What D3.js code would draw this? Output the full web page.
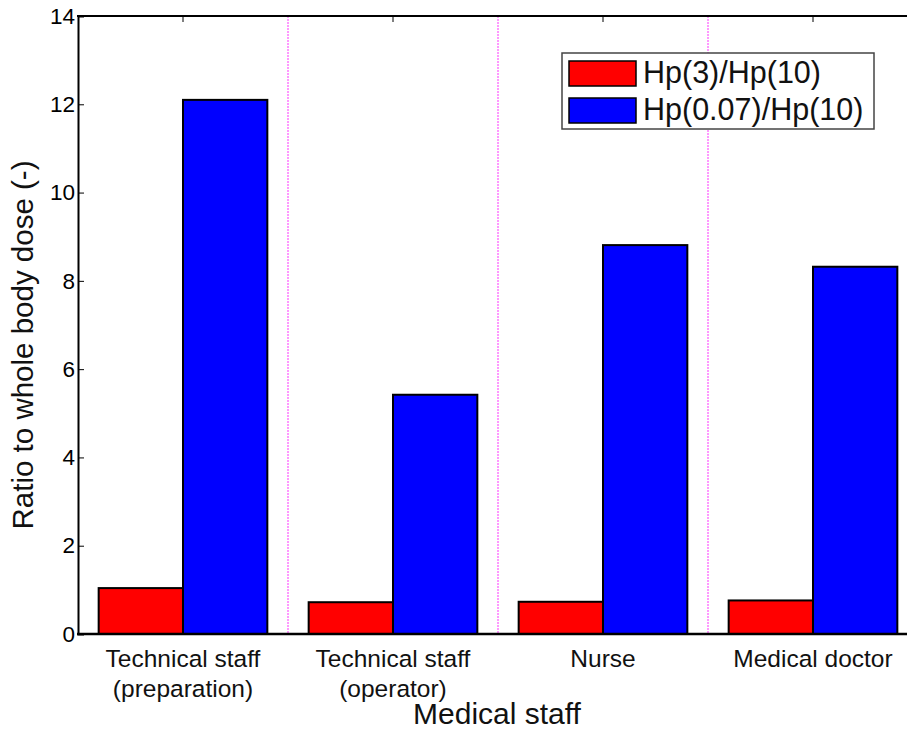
<!DOCTYPE html>
<html>
<head>
<meta charset="utf-8">
<script src="https://cdn.jsdelivr.net/npm/d3@7"></script>
<style>
  html, body { margin: 0; padding: 0; background: #fff; }
  svg { display: block; font-family: "Liberation Sans", Arial, sans-serif; }
</style>
</head>
<body>
<svg id="chart" width="907" height="730"></svg>
<script>
// Staff groups (label lines) and the two dose ratios per group
const categories = ["prep", "oper", "nurse", "doctor"];
const categoryLabels = [
  ["Technical staff", "(preparation)"],
  ["Technical staff", "(operator)"],
  ["Nurse"],
  ["Medical doctor"]
];
const seriesNames = ["Hp(3)/Hp(10)", "Hp(0.07)/Hp(10)"];
const seriesColors = ["#ff0000", "#0000ff"];
const ratioHp3 = [1.04, 0.72, 0.73, 0.76];
const ratioHp007 = [12.10, 5.42, 8.81, 8.32];
const yTicks = [0, 2, 4, 6, 8, 10, 12, 14];

(function () {
  const svg = d3.select("#chart");

  // Plot frame
  const plotLeft = 78, plotRight = 918, plotTop = 16, plotBottom = 634;

  const x = d3.scaleBand().domain(categories).range([plotLeft, plotRight]).paddingInner(0).paddingOuter(0);
  const xSub = d3.scaleBand().domain(seriesNames).range([0, x.bandwidth()]).paddingInner(0).paddingOuter(0.245);
  const y = d3.scaleLinear().domain([0, 14]).range([plotBottom, plotTop]);

  const rows = categories.map((c, i) => ({ cat: c, values: [ratioHp3[i], ratioHp007[i]] }));

  // Dotted separators between staff groups
  svg.append("g")
    .selectAll("line")
    .data(categories.slice(1))
    .join("line")
    .attr("x1", d => x(d)).attr("x2", d => x(d))
    .attr("y1", plotTop).attr("y2", plotBottom)
    .attr("stroke", "#ff33ff")
    .attr("stroke-width", 1)
    .attr("stroke-dasharray", "2,1");

  // Bars
  const groups = svg.append("g")
    .selectAll("g")
    .data(rows)
    .join("g")
    .attr("transform", d => `translate(${x(d.cat)},0)`);

  groups.selectAll("rect")
    .data(d => d.values.map((v, j) => ({ name: seriesNames[j], value: v, color: seriesColors[j] })))
    .join("rect")
    .attr("x", d => xSub(d.name))
    .attr("width", xSub.bandwidth())
    .attr("y", d => y(d.value))
    .attr("height", d => y(0) - y(d.value))
    .attr("fill", d => d.color)
    .attr("stroke", "#000")
    .attr("stroke-width", 2);

  // Y axis
  const yAxis = d3.axisLeft(y).tickValues(yTicks).tickSize(-6).tickPadding(3).tickFormat(d3.format("d"));
  const gy = svg.append("g").attr("transform", `translate(${plotLeft},0)`).call(yAxis);
  gy.select(".domain").attr("stroke", "#000").attr("stroke-width", 2);
  gy.selectAll(".tick line").attr("stroke", "#000").attr("stroke-width", 1);
  gy.selectAll(".tick text")
    .attr("font-size", 22.5)
    .attr("fill", "#000")
    .attr("font-family", "Liberation Sans, Arial, sans-serif");

  // Bottom axis line and top frame line
  svg.append("line").attr("x1", plotLeft - 1).attr("x2", plotRight).attr("y1", plotBottom).attr("y2", plotBottom)
    .attr("stroke", "#000").attr("stroke-width", 2.5);
  svg.append("line").attr("x1", plotLeft - 1).attr("x2", plotRight).attr("y1", plotTop).attr("y2", plotTop)
    .attr("stroke", "#000").attr("stroke-width", 2);

  // Small inward ticks on the top frame at group centres
  svg.append("g").selectAll("line")
    .data(categories)
    .join("line")
    .attr("x1", d => x(d) + x.bandwidth() / 2).attr("x2", d => x(d) + x.bandwidth() / 2)
    .attr("y1", plotTop).attr("y2", plotTop + 6)
    .attr("stroke", "#000").attr("stroke-width", 1);

  // Category labels
  const catText = svg.append("g")
    .selectAll("text")
    .data(categories)
    .join("text")
    .attr("text-anchor", "middle")
    .attr("font-size", 24.5)
    .attr("fill", "#111");
  catText.each(function (d, i) {
    const t = d3.select(this);
    categoryLabels[i].forEach((line, k) => {
      t.append("tspan")
        .attr("x", x(d) + x.bandwidth() / 2)
        .attr("y", 667 + k * 30)
        .text(line);
    });
  });

  // Axis titles
  svg.append("text")
    .attr("x", 497).attr("y", 724)
    .attr("text-anchor", "middle")
    .attr("font-size", 30)
    .attr("fill", "#111")
    .text("Medical staff");

  svg.append("text")
    .attr("transform", "translate(33,345) rotate(-90)")
    .attr("text-anchor", "middle")
    .attr("font-size", 29.5)
    .attr("fill", "#111")
    .text("Ratio to whole body dose (-)");

  // Legend
  const legend = svg.append("g");
  legend.append("rect")
    .attr("x", 562).attr("y", 53).attr("width", 312).attr("height", 76)
    .attr("fill", "#fff").attr("stroke", "#444").attr("stroke-width", 1.5);
  const items = legend.selectAll("g.item")
    .data(seriesNames)
    .join("g")
    .attr("class", "item")
    .attr("transform", (d, i) => `translate(0,${i * 37})`);
  items.append("rect")
    .attr("x", 569).attr("y", 61).attr("width", 67).attr("height", 25)
    .attr("fill", (d, i) => seriesColors[i])
    .attr("stroke", "#000").attr("stroke-width", 1.5);
  items.append("text")
    .attr("x", 643).attr("y", 83)
    .attr("font-size", 30.5)
    .attr("fill", "#111")
    .text(d => d);
})();
</script>
</body>
</html>
